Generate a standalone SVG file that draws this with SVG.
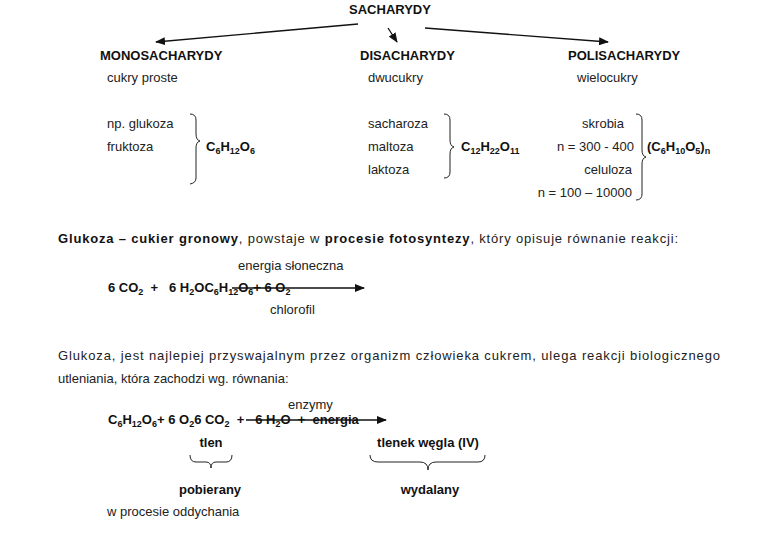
<svg xmlns="http://www.w3.org/2000/svg" width="778" height="537" viewBox="0 0 778 537">
<style>
text{font-family:"Liberation Sans",Arial,sans-serif;font-size:13px;fill:#222;white-space:pre}
.b{font-weight:bold;fill:#111}
.s{font-size:9px}
.ln{stroke:#111;stroke-width:1.3;fill:none}
.br{stroke:#222;stroke-width:1;fill:none}
</style>
<defs><marker id="a" markerWidth="10" markerHeight="8" refX="9" refY="4" orient="auto" markerUnits="userSpaceOnUse"><path d="M0,0 L10,4 L0,8 z" fill="#111"/></marker></defs>
<rect width="778" height="537" fill="#fff"/>
<g id="connectors">
<line class="ln" x1="358" y1="24" x2="156" y2="42" marker-end="url(#a)"/>
<line class="ln" x1="388" y1="28" x2="397" y2="42" marker-end="url(#a)"/>
<line class="ln" x1="425" y1="28" x2="608" y2="42" marker-end="url(#a)"/>
<line class="ln" x1="232" y1="288" x2="364" y2="288" marker-end="url(#a)"/>
<line class="ln" x1="246" y1="420" x2="386" y2="420" marker-end="url(#a)"/>
</g>
<g id="root"><text class="b" x="390" y="14" text-anchor="middle">SACHARYDY</text></g>
<g id="mono">
<text class="b" x="100" y="60">MONOSACHARYDY</text>
<text x="107" y="82">cukry proste</text>
<text x="107" y="128">np. glukoza</text>
<text x="107" y="151">fruktoza</text>
<path class="br" d="M190,114 Q196,114 196,120 L196,134 Q196,140 200,141 Q196,142 196,148 L196,178 Q196,183 190,184"/>
<text class="b" x="206" y="151">C<tspan class="s" dy="3">6</tspan><tspan dy="-3">H</tspan><tspan class="s" dy="3">12</tspan><tspan dy="-3">O</tspan><tspan class="s" dy="3">6</tspan></text>
</g>
<g id="di">
<text class="b" x="360" y="60">DISACHARYDY</text>
<text x="368" y="82">dwucukry</text>
<text x="368" y="128">sacharoza</text>
<text x="368" y="151">maltoza</text>
<text x="368" y="174">laktoza</text>
<path class="br" d="M444,114 Q450,114 450,120 L450,140 Q450,146 454,147 Q450,148 450,154 L450,172 Q450,178 444,178"/>
<text class="b" x="461" y="151">C<tspan class="s" dy="3">12</tspan><tspan dy="-3">H</tspan><tspan class="s" dy="3">22</tspan><tspan dy="-3">O</tspan><tspan class="s" dy="3">11</tspan></text>
</g>
<g id="poli">
<text class="b" x="568" y="60">POLISACHARYDY</text>
<text x="577" y="82">wielocukry</text>
<text x="624" y="128" text-anchor="end">skrobia</text>
<text x="634" y="151" text-anchor="end">n = 300 - 400</text>
<text x="632" y="174" text-anchor="end">celuloza</text>
<text x="632" y="197" text-anchor="end">n = 100 – 10000</text>
<path class="br" d="M636,114 Q642,114 642,120 L642,150 Q642,156 646,157 Q642,158 642,164 L642,194 Q642,200 636,200"/>
<text class="b" x="647" y="151">(C<tspan class="s" dy="3">6</tspan><tspan dy="-3">H</tspan><tspan class="s" dy="3">10</tspan><tspan dy="-3">O</tspan><tspan class="s" dy="3">5</tspan><tspan dy="-3">)</tspan><tspan class="s" dy="3">n</tspan></text>
</g>
<g id="fotosynteza">
<text x="58" y="243" textLength="620"><tspan class="b">Glukoza – cukier gronowy</tspan>, powstaje w <tspan class="b">procesie fotosyntezy</tspan>, który opisuje równanie reakcji:</text>
<text x="238" y="270">energia słoneczna</text>
<text class="b" x="108" y="292">6 CO<tspan class="s" dy="3">2</tspan><tspan dy="-3">  +   6 H</tspan><tspan class="s" dy="3">2</tspan><tspan dy="-3">OC</tspan><tspan class="s" dy="3">6</tspan><tspan dy="-3">H</tspan><tspan class="s" dy="3">12</tspan><tspan dy="-3">O</tspan><tspan class="s" dy="3">6</tspan><tspan dy="-3">+ 6 O</tspan><tspan class="s" dy="3">2</tspan></text>
<text x="270" y="314">chlorofil</text>
</g>
<g id="utlenianie">
<text x="58" y="360" textLength="662">Glukoza, jest najlepiej przyswajalnym przez organizm człowieka cukrem, ulega reakcji biologicznego</text>
<text x="58" y="383">utleniania, która zachodzi wg. równania:</text>
<text x="288" y="409">enzymy</text>
<text class="b" x="108" y="424">C<tspan class="s" dy="3">6</tspan><tspan dy="-3">H</tspan><tspan class="s" dy="3">12</tspan><tspan dy="-3">O</tspan><tspan class="s" dy="3">6</tspan><tspan dy="-3">+ 6 O</tspan><tspan class="s" dy="3">2</tspan><tspan dy="-3">6 CO</tspan><tspan class="s" dy="3">2</tspan><tspan dy="-3">  +   6 H</tspan><tspan class="s" dy="3">2</tspan><tspan dy="-3">O  +  energia</tspan></text>
<text class="b" x="211" y="447" text-anchor="middle">tlen</text>
<text class="b" x="428" y="447" text-anchor="middle">tlenek węgla (IV)</text>
<path class="br" d="M190,455 Q190,462 196,462 L206,462 Q211,462 211,468 Q211,462 216,462 L226,462 Q232,462 232,455"/>
<path class="br" d="M370,455 Q370,462 378,462 L420,462 Q428,462 428,470 Q428,462 436,462 L478,462 Q485,462 485,455"/>
<text class="b" x="210" y="494" text-anchor="middle">pobierany</text>
<text class="b" x="430" y="494" text-anchor="middle">wydalany</text>
<text x="107" y="516">w procesie oddychania</text>
</g>
</svg>
